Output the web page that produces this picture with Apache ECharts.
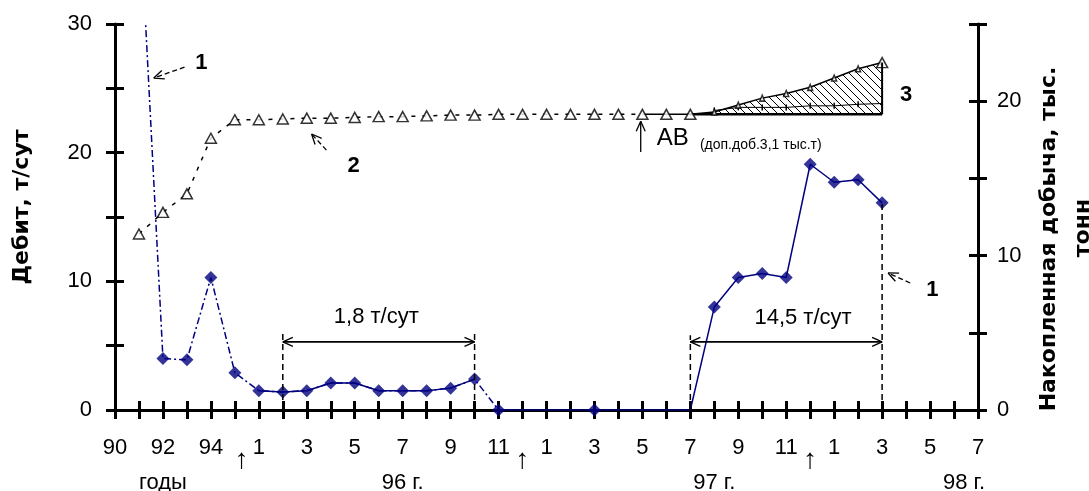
<!DOCTYPE html>
<html>
<head>
<meta charset="utf-8">
<script src="https://cdn.jsdelivr.net/npm/echarts@6/dist/echarts.min.js"></script>
<style>
  html, body { margin: 0; padding: 0; background: #fff; }
  #chart { width: 1089px; height: 491px; }
</style>
</head>
<body>
<div id="chart"></div>
<script>
const FONT = '"Liberation Sans", Arial, sans-serif'
const BOLD_FONT = '"DejaVu Sans", "Liberation Sans", sans-serif'
const BLUE = '#000080'

// x: 0..36 -> 1990..1995 (годы), then months of 96, 97, 98
const tickLabels = ['90', '', '92', '', '94', '', '1', '', '3', '', '5', '', '7', '', '9', '', '11', '',
  '1', '', '3', '', '5', '', '7', '', '9', '', '11', '', '1', '', '3', '', '5', '', '7']
const periodTicks = [2, 12, 25, 35]
const periodLabels = ['годы', '96 г.', '97 г.', '98 г.']
const yearArrowTicks = [5, 17, 29]

// дебит, т/сут (left axis)
const debit = [null, 40, 4.0, 3.9, 10.3, 2.9, 1.5, 1.4, 1.5, 2.1, 2.1, 1.5, 1.5, 1.5, 1.7, 2.4,
  0, 0, 0, 0, 0, 0, 0, 0, 0, 8.0, 10.3, 10.6, 10.3, 19.1, 17.7, 17.9, 16.1]
const debitMarked = [2, 3, 4, 5, 6, 7, 8, 9, 10, 11, 12, 13, 14, 15, 16, 20, 25, 26, 27, 28, 29, 30, 31, 32]

// накопленная добыча, тыс. т (right axis)
const cumulative = [null, 11.4, 12.8, 14.0, 17.6, 18.8, 18.8, 18.85, 18.9, 18.9, 18.95, 19.0, 19.0, 19.05,
  19.1, 19.1, 19.15, 19.15, 19.15, 19.15, 19.15, 19.15, 19.15, 19.15, 19.15, 19.3, 19.75, 20.2, 20.5,
  20.9, 21.5, 22.1, 22.5]
const baseTrendTicks = [25, 26, 27, 28, 29, 30, 31, 32]
const baseTrend = [19.4, 19.6, 19.6, 19.6, 19.7, 19.7, 19.8, 19.85]

const pts = (arr, from, to) => {
  const r = []
  for (let i = from; i <= to; i++) r.push([i, arr[i]])
  return r
}

// hatch pattern for area 3
const hatch = document.createElement('canvas')
hatch.width = hatch.height = 8
const hg = hatch.getContext('2d')
hg.strokeStyle = '#000'
hg.lineWidth = 1
hg.beginPath()
hg.moveTo(0, 0); hg.lineTo(8, 8)
hg.moveTo(-2, 6); hg.lineTo(2, 10)
hg.moveTo(6, -2); hg.lineTo(10, 2)
hg.stroke()

const hatchFrom = 24, hatchTo = 32
const base = cumulative[hatchFrom]
const hatchTop = pts(cumulative, hatchFrom, hatchTo)

const chart = echarts.init(document.getElementById('chart'))

const axisText = { color: '#000', fontSize: 22, fontFamily: FONT }
const thick = { color: '#000', width: 3 }

const xBase = { type: 'value', min: 0, max: 36, interval: 1, position: 'bottom', splitLine: { show: false } }
const yLeft = { type: 'value', position: 'left', min: 0, max: 30, interval: 5, splitLine: { show: false } }
const yRight = { type: 'value', position: 'right', min: 0, max: 25, interval: 5, splitLine: { show: false } }

const option = {
  animation: false,
  backgroundColor: '#fff',
  grid: { left: 115, right: 111, top: 24, bottom: 81, outerBoundsMode: 'none' },
  xAxis: [
    Object.assign({}, xBase, {
      axisLine: { onZero: false, lineStyle: thick },
      axisTick: { length: 9, lineStyle: thick },
      axisLabel: Object.assign({}, axisText, {
        margin: 27, showMinLabel: true, showMaxLabel: true,
        formatter: v => tickLabels[Math.round(v)] || ''
      })
    }),
    Object.assign({}, xBase, {
      axisLine: { show: false, onZero: false },
      axisTick: { inside: true, length: 9, lineStyle: thick },
      axisLabel: Object.assign({}, axisText, {
        margin: 36, fontSize: 28, showMinLabel: true, showMaxLabel: true,
        formatter: v => {
          const i = Math.round(v)
          if (!yearArrowTicks.includes(i)) return ''
          return i === yearArrowTicks[0] ? '{o|↑}' : '↑'
        },
        rich: { o: { fontSize: 28, fontFamily: FONT, padding: [0, 0, 0, 14] } }
      })
    }),
    Object.assign({}, xBase, {
      axisLine: { show: false, onZero: false },
      axisTick: { show: false },
      axisLabel: Object.assign({}, axisText, {
        margin: 62, showMinLabel: true, showMaxLabel: true,
        formatter: v => {
          const k = periodTicks.indexOf(Math.round(v))
          return k < 0 ? '' : (k === 3 ? '{o|' + periodLabels[k] + '}' : periodLabels[k])
        },
        rich: { o: { fontSize: 22, fontFamily: FONT, padding: [0, 0, 0, 20] } }
      })
    })
  ],
  yAxis: [
    Object.assign({}, yLeft, {
      axisLine: { show: true, onZero: false, lineStyle: thick },
      axisTick: { show: true, length: 9, lineStyle: thick },
      axisLabel: Object.assign({}, axisText, { margin: 23, formatter: v => (v % 10 === 0 ? v : '') }),
      name: 'Дебит, т/сут',
      nameLocation: 'middle',
      nameRotate: 90,
      nameGap: 82,
      nameTextStyle: { color: '#000', fontSize: 22, fontWeight: 'bold', fontFamily: BOLD_FONT, padding: [0, 0, 0, 20] }
    }),
    Object.assign({}, yRight, {
      axisLine: { show: true, onZero: false, lineStyle: thick },
      axisTick: { show: true, length: 9, lineStyle: thick },
      axisLabel: Object.assign({}, axisText, { margin: 19, formatter: v => (v % 10 === 0 ? v : '') }),
      name: '{a|Накопленная добыча, тыс.}\n{b|тонн}',
      nameLocation: 'middle',
      nameRotate: 90,
      nameGap: 54,
      nameTextStyle: {
        color: '#000', fontSize: 22, fontWeight: 'bold', fontFamily: BOLD_FONT, lineHeight: 34,
        rich: {
          a: { fontSize: 22, fontWeight: 'bold', fontFamily: BOLD_FONT, lineHeight: 34, padding: [0, 44, 0, 0] },
          b: { fontSize: 22, fontWeight: 'bold', fontFamily: BOLD_FONT, lineHeight: 34, padding: [0, 22, 0, 0] }
        }
      }
    }),
    Object.assign({}, yLeft, {
      axisLine: { show: false, onZero: false },
      axisTick: { show: true, inside: true, length: 9, lineStyle: thick },
      axisLabel: { show: false }
    }),
    Object.assign({}, yRight, {
      axisLine: { show: false, onZero: false },
      axisTick: { show: true, inside: true, length: 9, lineStyle: thick },
      axisLabel: { show: false }
    })
  ],
  series: [
    // curve 1: debit
    {
      type: 'line', yAxisIndex: 0, showSymbol: false, z: 3,
      data: pts(debit, 1, 16),
      lineStyle: { color: BLUE, width: 1.5, type: [7, 3, 2, 3] }
    },
    {
      type: 'line', yAxisIndex: 0, showSymbol: false, z: 3,
      data: pts(debit, 6, 15),
      lineStyle: { color: BLUE, width: 1.5 }
    },
    {
      type: 'line', yAxisIndex: 0, showSymbol: false, z: 3,
      data: pts(debit, 16, 32),
      lineStyle: { color: BLUE, width: 1.5 }
    },
    {
      type: 'scatter', yAxisIndex: 0, z: 4,
      symbol: 'diamond', symbolSize: 13,
      itemStyle: { color: BLUE },
      data: debitMarked.map(i => [i, debit[i]])
    },
    // area 3: extra production after treatment
    {
      type: 'custom', yAxisIndex: 1, z: 2,
      data: hatchTop,
      renderItem: (params, api) => {
        if (params.dataIndex !== 0) return
        const top = hatchTop.map(p => api.coord(p))
        const bottom = hatchTop.slice().reverse().map(p => api.coord([p[0], base]))
        return {
          type: 'polygon',
          shape: { points: top.concat(bottom) },
          style: { fill: { image: hatch, repeat: 'repeat' }, stroke: null }
        }
      }
    },
    {
      type: 'line', yAxisIndex: 1, showSymbol: false, z: 3,
      data: hatchTop.map(p => [p[0], base]),
      lineStyle: { color: '#000', width: 2.5 }
    },
    {
      type: 'line', yAxisIndex: 1, z: 3,
      symbol: 'rect', symbolSize: [1.5, 6],
      itemStyle: { color: '#000' },
      data: baseTrendTicks.map((t, k) => [t, baseTrend[k]]),
      lineStyle: { color: '#000', width: 1 }
    },
    // curve 2: cumulative production
    {
      type: 'line', yAxisIndex: 1, showSymbol: false, z: 3,
      data: pts(cumulative, 1, 22),
      lineStyle: { color: '#000', width: 1.5, type: [4, 7] }
    },
    {
      type: 'line', yAxisIndex: 1, showSymbol: false, z: 3,
      data: pts(cumulative, 22, 32),
      lineStyle: { color: '#000', width: 1.5 }
    },
    {
      type: 'scatter', yAxisIndex: 1, z: 4,
      symbol: 'triangle',
      itemStyle: { color: '#fff', borderColor: '#000', borderWidth: 1.5 },
      data: pts(cumulative, 1, 32).map(p => ({
        value: p,
        symbolSize: (p[0] > hatchFrom && p[0] < hatchTo) ? [5, 6] : [11, 10]
      }))
    }
  ]
}

chart.setOption(option)

// annotations, placed in data units of the left axis
const P = (x, y) => chart.convertToPixel({ xAxisIndex: 0, yAxisIndex: 0 }, [x, y])
const black = { stroke: '#000', lineWidth: 1.3 }

function seg(a, b, style) {
  return { type: 'line', z: 50, shape: { x1: a[0], y1: a[1], x2: b[0], y2: b[1] }, style: Object.assign({}, black, style) }
}
function head(tip, from, len = 11, ang = 0.42) {
  const a = Math.atan2(from[1] - tip[1], from[0] - tip[0])
  return [a - ang, a + ang].map(t => seg(tip, [tip[0] + len * Math.cos(t), tip[1] + len * Math.sin(t)]))
}
function arrow(from, to, dashed) {
  const a = P(from[0], from[1]), b = P(to[0], to[1])
  return [seg(a, b, dashed ? { lineDash: [5, 3] } : {})].concat(head(b, a))
}
function text(x, y, str, opts) {
  const p = P(x, y)
  return {
    type: 'text', z: 50, x: p[0], y: p[1],
    style: Object.assign({
      text: str, fill: '#000', font: '22px ' + FONT,
      align: 'center', verticalAlign: 'middle', textAlign: 'center', textVerticalAlign: 'middle'
    }, opts || {})
  }
}
function vdash(x, y1, y2) {
  return seg(P(x, y1), P(x, y2), { lineDash: [6, 4], lineWidth: 1.5 })
}
function span(x1, x2, y) {
  const a = P(x1, y), b = P(x2, y)
  return [seg(a, b, { lineWidth: 1.8 })].concat(head(a, b), head(b, a))
}

const g = [].concat(
  vdash(7, 0, 5.9), vdash(15, 0, 6.1), span(7, 15, 5.3),
  text(10.9, 7.2, '1,8 т/сут'),
  vdash(24, 0, 5.8), vdash(32, 0, debit[32]), span(24, 32, 5.3),
  text(28.7, 7.15, '14,5 т/сут'),
  arrow([2.9, 26.65], [1.62, 25.8], true),
  text(3.6, 27.0, '1', { font: 'bold 22px ' + FONT }),
  arrow([8.82, 20.2], [8.2, 21.45], true),
  text(9.95, 19.0, '2', { font: 'bold 22px ' + FONT }),
  arrow([33.17, 9.87], [32.25, 10.65], true),
  text(34.1, 9.3, '1', { font: 'bold 22px ' + FONT }),
  text(33.0, 24.5, '3', { font: 'bold 22px ' + FONT }),
  arrow([21.93, 20.05], [21.93, 22.45], false),
  text(22.6, 21.1, 'АВ', { font: '24px ' + FONT, align: 'left', textAlign: 'left' }),
  text(24.4, 20.6, '(доп.доб.3,1 тыс.т)', { font: '14px ' + FONT, align: 'left', textAlign: 'left' })
)
// right edge of hatched area
const eTop = chart.convertToPixel({ xAxisIndex: 0, yAxisIndex: 1 }, [hatchTo, cumulative[hatchTo]])
const eBot = chart.convertToPixel({ xAxisIndex: 0, yAxisIndex: 1 }, [hatchTo, base])
g.push(seg(eTop, eBot, { lineWidth: 2 }))

chart.setOption({ graphic: g })
</script>
</body>
</html>
